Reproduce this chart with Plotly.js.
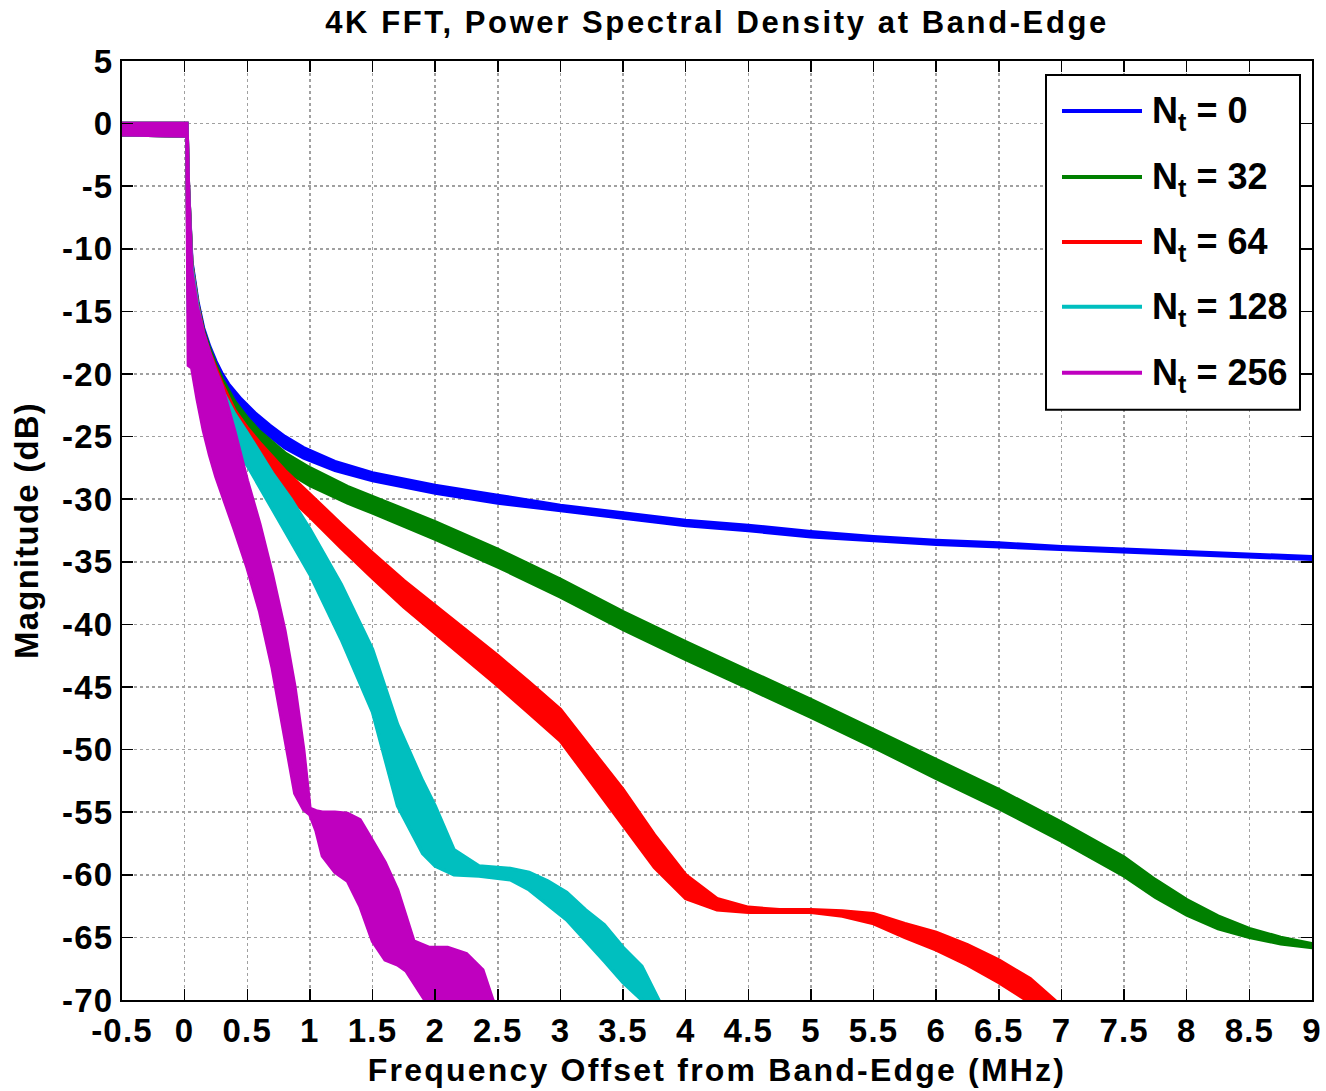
<!DOCTYPE html>
<html><head><meta charset="utf-8">
<script src="https://cdn.plot.ly/plotly-3.0.1.min.js"></script>
<style>
html,body{margin:0;padding:0;background:#fff}
.gtitle{letter-spacing:2.6px}
.xtitle{letter-spacing:2.2px}
.ytitle{letter-spacing:1.2px}
.xtick text,.ytick text{letter-spacing:1.2px}
</style>
</head><body>
<div id="chart" style="width:1326px;height:1091px"></div>
<script>
// ---- Data (hi/lo = ripple envelope in dB) ----
const chartTitle = '4K FFT, Power Spectral Density at Band-Edge';
const xTitle = 'Frequency Offset from Band-Edge (MHz)';
const yTitle = 'Magnitude (dB)';
const seriesNames = ['N<sub>t</sub> = 0', 'N<sub>t</sub> = 32', 'N<sub>t</sub> = 64', 'N<sub>t</sub> = 128', 'N<sub>t</sub> = 256'];
const seriesColors = ['#0000FF', '#008000', '#FF0000', '#00BFBF', '#BF00BF'];
const xTicks = [-0.5,0,0.5,1,1.5,2,2.5,3,3.5,4,4.5,5,5.5,6,6.5,7,7.5,8,8.5,9];
const xTickLabels = ['-0.5','0','0.5','1','1.5','2','2.5','3','3.5','4','4.5','5','5.5','6','6.5','7','7.5','8','8.5','9'];
const yTicks = [-70,-65,-60,-55,-50,-45,-40,-35,-30,-25,-20,-15,-10,-5,0,5];
const yTickLabels = ['-70','-65','-60','-55','-50','-45','-40','-35','-30','-25','-20','-15','-10','-5','0','5'];

const blueX  = [-0.5, 0.018, 0.03, 0.057, 0.105, 0.15, 0.2, 0.25, 0.3, 0.35, 0.45, 0.56, 0.68, 0.8, 0.95, 1.2, 1.5, 1.85, 2.0, 2.5, 3.0, 3.5, 4.0, 4.5, 5.0, 5.5, 6.0, 6.5, 7.0, 7.5, 8.0, 8.5, 9.0];
const blueHi = [0, 0, -5, -11.0, -14.2, -16.3, -17.8, -19.0, -20.0, -20.8, -22.0, -23.1, -24.1, -25.0, -25.9, -27.0, -27.9, -28.6, -28.9, -29.7, -30.5, -31.1, -31.7, -32.1, -32.6, -33.0, -33.3, -33.5, -33.8, -34.0, -34.2, -34.4, -34.6];
const blueLo = [-0.9, -1.0, -12, -13.5, -16.0, -17.8, -19.2, -20.3, -21.2, -22.0, -23.2, -24.1, -25.0, -25.9, -26.7, -27.7, -28.5, -29.2, -29.5, -30.3, -30.9, -31.5, -32.1, -32.5, -33.0, -33.3, -33.6, -33.8, -34.0, -34.2, -34.4, -34.6, -34.8];

const greenX  = [-0.5, 0.018, 0.03, 0.057, 0.105, 0.15, 0.2, 0.25, 0.3, 0.4, 0.5, 0.6, 0.8, 1.0, 1.3, 1.5, 2.0, 2.5, 3.0, 3.5, 4.0, 4.5, 5.0, 5.5, 6.0, 6.5, 7.0, 7.5, 7.75, 8.0, 8.25, 8.5, 8.75, 9.0];
const greenHi = [0, 0, -5, -11.2, -14.4, -16.5, -18.0, -19.3, -20.4, -22.2, -23.5, -24.6, -26.3, -27.5, -29.0, -29.8, -31.8, -34.0, -36.4, -39.0, -41.4, -43.7, -46.0, -48.4, -50.8, -53.2, -55.8, -58.6, -60.4, -62.0, -63.3, -64.3, -65.0, -65.5];
const greenLo = [-0.9, -1.0, -13, -14.0, -16.5, -18.3, -19.8, -21.0, -22.0, -23.8, -25.0, -26.0, -27.7, -28.9, -30.3, -31.1, -33.2, -35.4, -37.8, -40.4, -42.8, -45.1, -47.4, -49.8, -52.3, -54.7, -57.3, -60.1, -61.8, -63.2, -64.3, -65.0, -65.5, -65.8];

const redX  = [-0.5, 0.018, 0.03, 0.057, 0.105, 0.15, 0.2, 0.25, 0.3, 0.4, 0.5, 0.6, 0.8, 1.0, 1.25, 1.5, 1.75, 2.0, 2.25, 2.5, 2.75, 3.0, 3.25, 3.5, 3.75, 4.0, 4.25, 4.5, 4.75, 5.0, 5.25, 5.5, 5.75, 6.0, 6.25, 6.5, 6.75, 7.0];
const redHi = [0, 0, -5, -11.3, -14.5, -16.7, -18.3, -19.6, -20.8, -22.9, -24.3, -25.5, -27.7, -29.6, -32.0, -34.3, -36.5, -38.5, -40.5, -42.5, -44.6, -46.8, -50.0, -53.2, -56.8, -60.0, -61.9, -62.6, -62.8, -62.8, -62.9, -63.1, -63.9, -64.6, -65.6, -66.8, -68.3, -70.5];
const redLo = [-0.9, -1.0, -14, -14.5, -17.0, -19.0, -20.8, -22.2, -23.4, -24.9, -26.3, -27.5, -29.5, -31.4, -33.9, -36.3, -38.6, -40.7, -42.8, -44.9, -47.1, -49.3, -52.6, -56.0, -59.4, -61.9, -62.8, -63.0, -63.0, -63.0, -63.3, -63.9, -65.0, -66.0, -67.2, -68.6, -70.2, -72.0];

const cyanX  = [-0.5, 0.018, 0.03, 0.057, 0.105, 0.15, 0.2, 0.25, 0.3, 0.4, 0.5, 0.7, 0.85, 1.0, 1.25, 1.5, 1.7, 1.9, 2.0, 2.15, 2.35, 2.6, 2.75, 2.9, 3.05, 3.2, 3.35, 3.5, 3.65, 3.8];
const cyanHi = [0, 0, -5, -11.4, -14.6, -16.9, -18.6, -20.0, -21.3, -23.2, -24.7, -27.9, -30.0, -32.4, -36.8, -42.0, -48.0, -52.5, -54.5, -58.0, -59.3, -59.5, -59.8, -60.5, -61.4, -62.8, -64.0, -65.8, -67.3, -70.3];
const cyanLo = [-0.9, -1.0, -15, -15.0, -18.0, -20.5, -22.3, -23.8, -25.0, -26.0, -27.3, -30.8, -33.4, -36.0, -41.2, -47.0, -54.5, -58.3, -59.3, -60.0, -60.1, -60.4, -61.2, -62.4, -63.6, -65.3, -66.9, -68.6, -70.0, -72.0];

const magX  = [-0.5, 0.018, 0.03, 0.057, 0.1, 0.15, 0.2, 0.25, 0.3, 0.4, 0.5, 0.6, 0.7, 0.8, 0.88, 0.95, 1.0, 1.05, 1.1, 1.2, 1.3, 1.4, 1.5, 1.6, 1.7, 1.77, 1.83, 1.95, 2.1, 2.25, 2.38, 2.46, 2.5];
const magHi = [0, 0, -5, -11.8, -14.6, -16.7, -18.3, -19.8, -21.0, -24.6, -28.5, -32.0, -36.0, -40.5, -45.0, -50.0, -54.7, -54.9, -55.0, -55.0, -55.1, -55.6, -57.3, -59.0, -61.2, -63.5, -65.3, -65.8, -65.8, -66.3, -67.6, -70.0, -71.0];
const magLo = [-0.9, -1.0, -19.3, -19.5, -22.0, -24.5, -26.5, -28.2, -29.6, -32.5, -35.5, -39.0, -43.5, -49.0, -53.5, -54.8, -55.2, -56.5, -58.5, -59.8, -60.5, -62.5, -65.3, -66.8, -67.2, -67.7, -68.6, -70.5, -71.0, -71.0, -71.0, -71.5, -72.0];

// ---- Build ----
const FONT = 'Liberation Sans, Arial, Helvetica, sans-serif';
function band(x, hi, lo, color) {
  return {
    x: x.concat(x.slice().reverse()),
    y: hi.concat(lo.slice().reverse()),
    type: 'scatter', mode: 'lines', fill: 'toself', fillcolor: color,
    line: {color: color, width: 3.5}, showlegend: false, hoverinfo: 'skip'
  };
}
const traces = [
  band(blueX, blueHi, blueLo, seriesColors[0]),
  band(greenX, greenHi, greenLo, seriesColors[1]),
  band(redX, redHi, redLo, seriesColors[2]),
  band(cyanX, cyanHi, cyanLo, seriesColors[3]),
  band(magX, magHi, magLo, seriesColors[4])
];

// pixel -> paper helpers for the legend box
const PL = 122, PR = 1312, PT = 61, PB = 1000.5;
const px = v => (v - PL) / (PR - PL);
const py = v => (PB - v) / (PB - PT);

const shapes = [{type: 'rect', xref: 'paper', yref: 'paper', x0: px(1046), x1: px(1300), y0: py(410), y1: py(75),
  line: {color: '#000', width: 2}, fillcolor: '#fff', layer: 'above'}];
const annotations = [];
const legendRows = [111, 177, 242, 307, 373];
seriesNames.forEach((n, i) => {
  shapes.push({type: 'line', xref: 'paper', yref: 'paper', x0: px(1062), x1: px(1142), y0: py(legendRows[i]), y1: py(legendRows[i]),
    line: {color: seriesColors[i], width: 4}, layer: 'above'});
  annotations.push({xref: 'paper', yref: 'paper', x: px(1150), y: py(legendRows[i] + 2), xanchor: 'left', yanchor: 'middle',
    text: n, showarrow: false, font: {family: FONT, size: 36, weight: 'bold', color: '#000'}});
});

const axisCommon = {
  ticks: 'inside', ticklen: 11, tickwidth: 1.5, tickcolor: '#000',
  showline: true, linecolor: '#000', linewidth: 2, mirror: 'allticks',
  showgrid: true, gridcolor: '#a0a0a0', gridwidth: 1.5, griddash: 'dot',
  zeroline: false, tickfont: {family: FONT, size: 33, weight: 'bold', color: '#000'}
};

const layout = {
  width: 1326, height: 1091,
  paper_bgcolor: '#fff', plot_bgcolor: '#fff',
  margin: {l: PL, r: 1326 - PR, t: PT, b: 1091 - PB, pad: 0},
  title: {text: chartTitle, x: 0.5, xref: 'paper', y: 1 - 22/1091, yref: 'container', yanchor: 'middle',
    font: {family: FONT, size: 31, weight: 'bold', color: '#000'}},
  xaxis: Object.assign({}, axisCommon, {range: [-0.5, 9], tickmode: 'array', tickvals: xTicks, ticktext: xTickLabels,
    title: {text: xTitle, standoff: 11, font: {family: FONT, size: 32, weight: 'bold', color: '#000'}}}),
  yaxis: Object.assign({}, axisCommon, {range: [-70, 5], tickmode: 'array', tickvals: yTicks, ticktext: yTickLabels,
    title: {text: yTitle, standoff: 14, font: {family: FONT, size: 33, weight: 'bold', color: '#000'}}}),
  shapes: shapes, annotations: annotations, showlegend: false
};

Plotly.newPlot('chart', traces, layout, {displayModeBar: false, staticPlot: true});
</script></body></html>
